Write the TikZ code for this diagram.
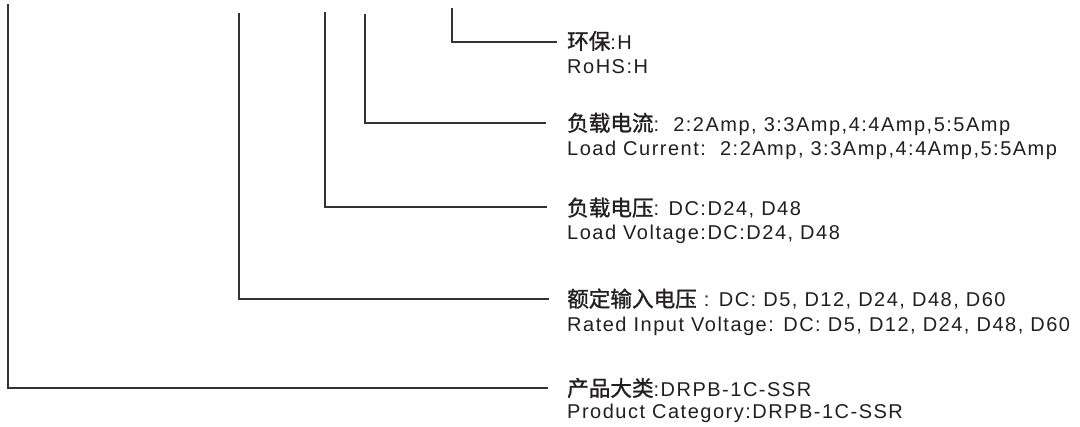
\documentclass[tikz,border=0pt]{standalone}
\usepackage{fontspec}
\setmainfont{Liberation Sans}[LetterSpace=7.5]
\newfontfamily\cjkfont{Noto Sans CJK SC}[Scale=1.08, FakeBold=1.2]
\newcommand{\zh}[1]{{\cjkfont #1}}
\definecolor{ink}{HTML}{231F20}
\definecolor{wire}{HTML}{333333}
\tikzset{
  lbl/.style={anchor=west, inner sep=0pt, text=ink, font=\fontsize{20}{20}\selectfont},
  leader/.style={draw=wire, line width=1.3pt}
}
\begin{document}
\begin{tikzpicture}[x=1pt,y=-1pt]
\useasboundingbox[fill=white] (0,0) rectangle (1080,427);
% tops of the leaders
\coordinate (t1) at (8,4);
\coordinate (t2) at (239,13);
\coordinate (t3) at (325,12);
\coordinate (t4) at (365,14);
\coordinate (t5) at (452,8);
% ends of the leaders
\coordinate (e5) at (557,42);
\coordinate (e4) at (546,123);
\coordinate (e3) at (547,207);
\coordinate (e2) at (549,299);
\coordinate (e1) at (548,388);
% labels
\node[lbl] (a5) at (567,41) {\zh{环保}:H};
\node[lbl] (b5) at (567,67) {RoHS:H};
\node[lbl] (a4) at (567,124) {\zh{负载电流}:\ \ 2:2Amp, 3:3Amp,4:4Amp,5:5Amp};
\node[lbl] (b4) at (567,150) {Load Current:\ \ 2:2Amp, 3:3Amp,4:4Amp,5:5Amp};
\node[lbl] (a3) at (567,208) {\zh{负载电压}: DC:D24, D48};
\node[lbl] (b3) at (567,234) {Load Voltage:DC:D24, D48};
\node[lbl] (a2) at (567,299) {\zh{额定输入电压} : DC: D5, D12, D24, D48, D60};
\node[lbl] (b2) at (567,326) {Rated Input Voltage: DC: D5, D12, D24, D48, D60};
\node[lbl] (a1) at (567,388) {\zh{产品大类}:DRPB-1C-SSR};
\node[lbl] (b1) at (567,413) {Product Category:DRPB-1C-SSR};
% leaders
\draw[leader] (t1) |- (e1);
\draw[leader] (t2) |- (e2);
\draw[leader] (t3) |- (e3);
\draw[leader] (t4) |- (e4);
\draw[leader] (t5) |- (e5);
\end{tikzpicture}
\end{document}
